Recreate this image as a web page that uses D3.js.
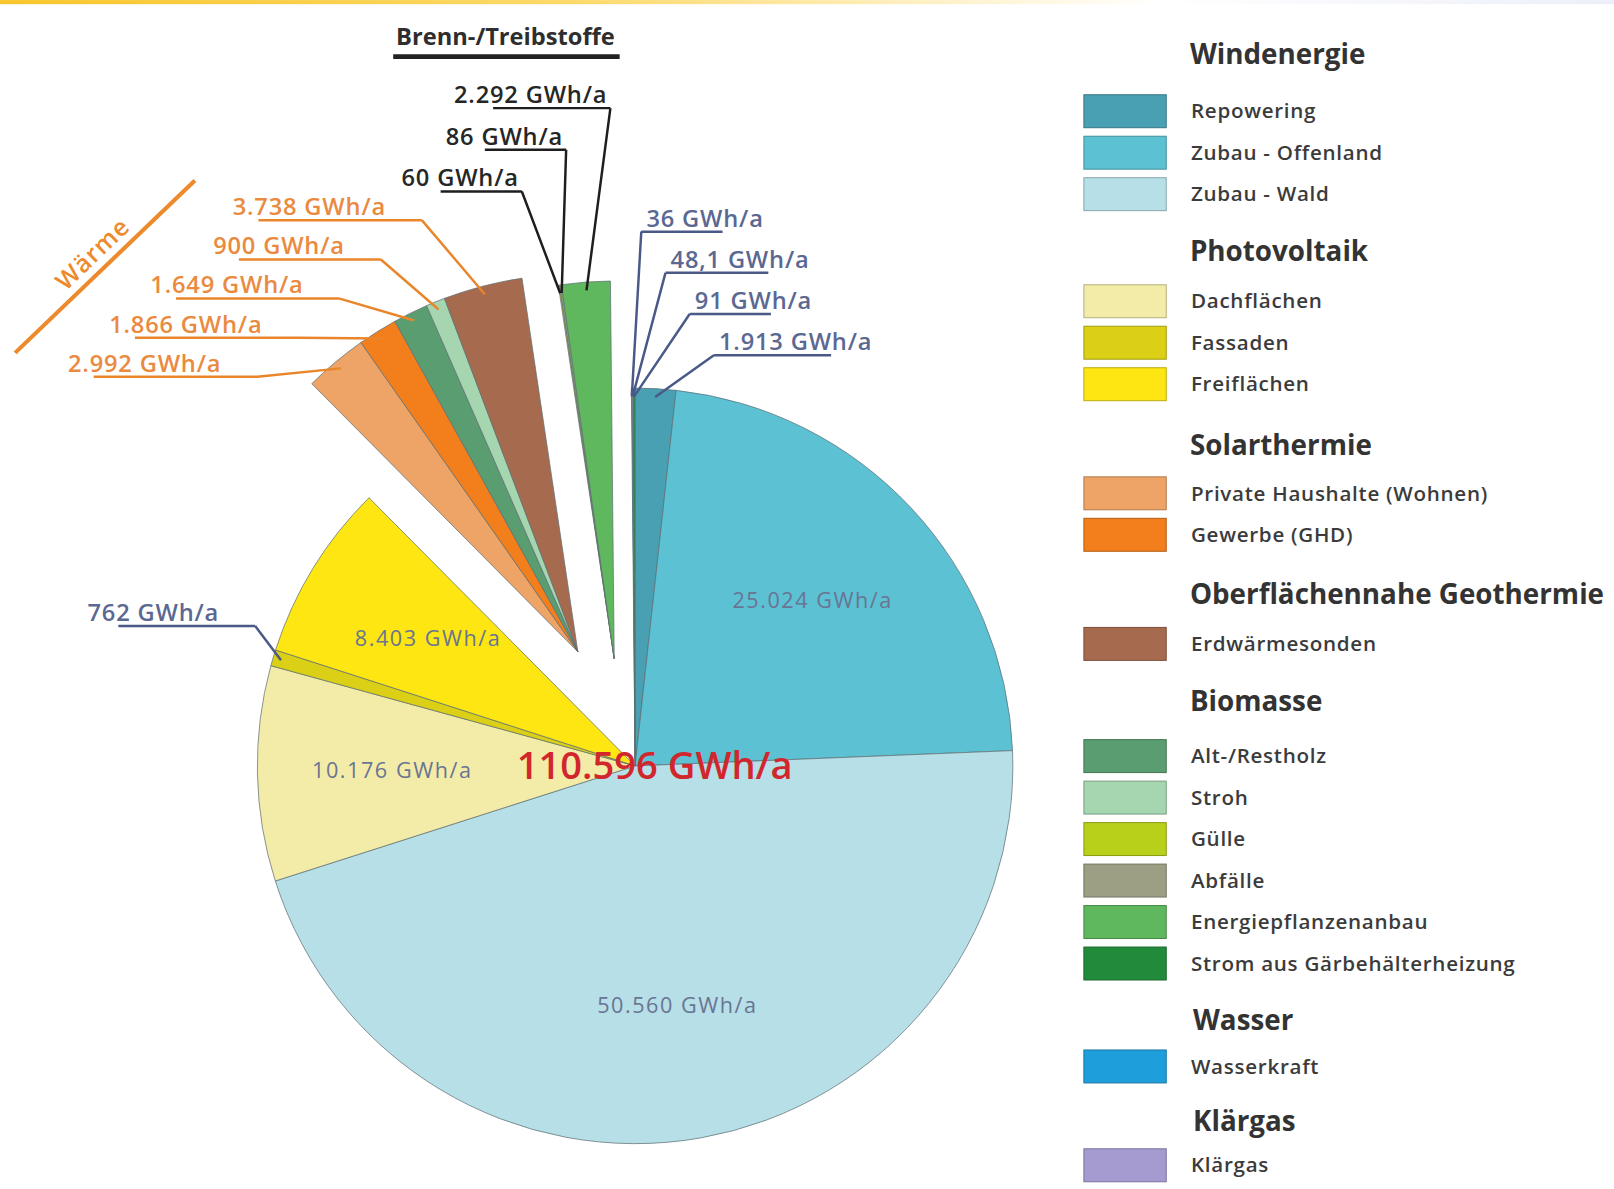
<!DOCTYPE html>
<html lang="de">
<head>
<meta charset="utf-8">
<title>Erneuerbare Energien - Potenziale</title>
<script src="https://cdnjs.cloudflare.com/ajax/libs/d3/7.8.5/d3.min.js"></script>
<style>
  body { margin: 0; background: #fff; }
  svg { display: block; font-family: "Open Sans", "DejaVu Sans", sans-serif; }
</style>
</head>
<body>
<div id="chart-area"></div>
<script>
/*
*   Erneuerbare Energien - Potenziale in GWh/a
*/

// slices, clockwise from 12 o'clock
var sliceNames = ["Repowering", "Zubau - Offenland", "Zubau - Wald",
    "Dachflächen", "Fassaden", "Freiflächen",
    "Private Haushalte (Wohnen)", "Gewerbe (GHD)", "Alt-/Restholz", "Stroh", "Erdwärmesonden",
    "Gülle", "Abfälle", "Energiepflanzenanbau",
    "Wasserkraft", "Klärgas", "Strom aus Gärbehälterheizung"];
var sliceValues = [1913, 25024, 50560, 10176, 762, 8403,
    2992, 1866, 1649, 900, 3738,
    60, 86, 2292,
    36, 48.1, 91];
var sliceUse = ["Strom", "Strom", "Strom", "Strom", "Strom", "Strom",
    "Wärme", "Wärme", "Wärme", "Wärme", "Wärme",
    "Brenn", "Brenn", "Brenn",
    "Strom", "Strom", "Strom"];
var unit = "GWh/a";

// legend
var legendHeaders = ["Windenergie", "Photovoltaik", "Solarthermie", "Oberflächennahe Geothermie",
    "Biomasse", "Wasser", "Klärgas"];
var legendItems = [
    ["Repowering", "Zubau - Offenland", "Zubau - Wald"],
    ["Dachflächen", "Fassaden", "Freiflächen"],
    ["Private Haushalte (Wohnen)", "Gewerbe (GHD)"],
    ["Erdwärmesonden"],
    ["Alt-/Restholz", "Stroh", "Gülle", "Abfälle", "Energiepflanzenanbau", "Strom aus Gärbehälterheizung"],
    ["Wasserkraft"],
    ["Klärgas"]];
var itemColors = ["#4aa0b3", "#5cc1d3", "#b6dfe7",
    "#f3eca9", "#dbd015", "#fde612",
    "#eea367", "#f27f1c",
    "#a66b4f",
    "#5a9d70", "#a6d6b0", "#b9d01a", "#9c9f84", "#5fb85d", "#228b3b",
    "#1e9fdb",
    "#a69bd1"];

var color = d3.scaleOrdinal()
    .domain(d3.merge(legendItems))
    .range(itemColors);

var de = d3.formatLocale({decimal: ",", thousands: ".", grouping: [3], currency: ["", " €"]});
var fmt = de.format(",.6~g");

var W = 1568, H = 1155;
var cx = 617, cy = 744, R = 367;
var explode = {"Strom": 0, "Wärme": 124, "Brenn": 106};
var explodeTilt = {"Strom": 0, "Wärme": 0, "Brenn": -6.5 * Math.PI / 180};

var svg = d3.select("#chart-area")
    .append("svg")
        .attr("width", 1614)
        .attr("height", 1189)
        .attr("viewBox", "0 0 " + W + " " + H);

// yellow strip on top
var grad = svg.append("defs").append("linearGradient").attr("id", "topbar");
[[0, "#f8c52a"], [0.35, "#fcd866"], [0.6, "#fff3cf"], [0.72, "#ffffff"], [1, "#eceff9"]].forEach(function(s){
    grad.append("stop").attr("offset", s[0]).attr("stop-color", s[1]);
});
svg.append("rect").attr("width", W).attr("height", 4).attr("fill", "url(#topbar)");

var data = sliceNames.map(function(n, i){
    return {name: n, value: sliceValues[i], use: sliceUse[i]};
});

var pie = d3.pie().sort(null).value(function(d){ return d.value; });
var arcs = pie(data);
var arc = d3.arc().innerRadius(0).outerRadius(R);
var labelArc = d3.arc().innerRadius(236).outerRadius(236);

// mid angle of every group, to pull the group out
var groupMid = {};
d3.group(arcs, function(d){ return d.data.use; }).forEach(function(list, key){
    groupMid[key] = (d3.min(list, function(d){ return d.startAngle; }) +
                     d3.max(list, function(d){ return d.endAngle; })) / 2;
});

function offset(d){
    var o = explode[d.data.use], a = groupMid[d.data.use] + explodeTilt[d.data.use];
    return [o * Math.sin(a), -o * Math.cos(a)];
}
function midAngle(d){ return (d.startAngle + d.endAngle) / 2; }
function anchorPt(d){
    var a = midAngle(d), o = offset(d), r = R - 8;
    return [cx + o[0] + r * Math.sin(a), cy + o[1] - r * Math.cos(a)];
}

var g = svg.append("g").attr("transform", "translate(" + cx + "," + cy + ")");

g.selectAll("path.slice")
    .data(arcs)
    .enter().append("path")
        .attr("class", "slice")
        .attr("transform", function(d){ return "translate(" + offset(d) + ")"; })
        .attr("d", arc)
        .attr("fill", function(d){ return color(d.data.name); })
        .attr("stroke", "#5e6e72")
        .attr("stroke-width", 0.7);

// big slices: value inside
g.selectAll("text.inner")
    .data(arcs.filter(function(d){ return d.data.value > 5000; }))
    .enter().append("text")
        .attr("class", "inner")
        .attr("transform", function(d){ return "translate(" + labelArc.centroid(d) + ")"; })
        .attr("dy", "0.35em")
        .attr("text-anchor", "middle")
        .attr("font-size", "21px")
        .attr("letter-spacing", "1.5px")
        .attr("fill", "#6a7493")
        .text(function(d){ return fmt(d.data.value) + " " + unit; });

// total
g.append("text")
    .attr("x", 19)
    .attr("dy", "0.35em")
    .attr("text-anchor", "middle")
    .attr("font-size", "37px")
    .attr("font-weight", 600)
    .attr("fill", "#d2262d")
    .text(fmt(d3.sum(sliceValues)) + " " + unit);

// small slices: labels with leader lines
var leaderLayout = {
    "Wärme":     {x0: 375, y0: 209, dx: -40,  dy: 38,   anchor: "end",   fill: "#ea8a3f", stroke: "#e9862c", u0: 25, u1: 35, elbow: "right"},
    "Brenn":     {x0: 590, y0: 100, dx: -43,  dy: 40.5, anchor: "end",   fill: "#262626", stroke: "#1e1e1e", u0: 38, u1: 3,  elbow: "right"},
    "StromTop":  {x0: 628, y0: 220, dx: 23.5, dy: 40,   anchor: "start", fill: "#5b6892", stroke: "#4a5987", u0: -5, u1: -40, elbow: "left"},
    "StromLeft": {x0: 85,  y0: 603, dx: 0,    dy: 0,    anchor: "start", fill: "#5b6892", stroke: "#4a5987", u0: 30, u1: 35, elbow: "right"}
};

function leaderKey(d){
    if (d.data.use !== "Strom") return d.data.use;
    var a = midAngle(d);
    return (a > Math.PI && a < 1.9 * Math.PI) ? "StromLeft" : "StromTop";
}
function signedAngle(d){
    var a = midAngle(d);
    return a > Math.PI ? a - 2 * Math.PI : a;
}

var small = arcs.filter(function(d){ return d.data.value <= 5000; });
var leaders = svg.append("g");

Object.keys(leaderLayout).forEach(function(key){
    var L = leaderLayout[key];
    var list = small.filter(function(d){ return leaderKey(d) === key; });
    if (key === "StromTop" || key === "StromLeft") {
        list.sort(function(a, b){ return signedAngle(a) - signedAngle(b); });
    } else {
        list.sort(function(a, b){ return midAngle(b) - midAngle(a); });
    }
    list.forEach(function(d, i){
        var x = L.x0 + L.dx * i, y = L.y0 + L.dy * i;
        var t = leaders.append("text")
            .attr("x", x)
            .attr("y", y)
            .attr("text-anchor", L.anchor)
            .attr("font-size", "23px")
            .attr("font-weight", 600)
            .attr("letter-spacing", "0.8px")
            .attr("fill", L.fill)
            .text(fmt(d.data.value) + " " + unit);
        var w = t.node().getComputedTextLength();
        var x1 = L.anchor === "end" ? x - w : x, x2 = x1 + w;
        var uy = y + 5, ua = x1 + L.u0, ub = x2 + L.u1;
        var ex = L.elbow === "right" ? ub : ua;
        var p = anchorPt(d);
        leaders.append("path")
            .attr("d", "M" + ua + "," + uy + "H" + ub + "M" + ex + "," + uy + "L" + p[0] + "," + p[1])
            .attr("fill", "none")
            .attr("stroke", L.stroke)
            .attr("stroke-width", 2.4);
    });
});

// group titles
var wt = svg.append("g").attr("transform", "translate(102,259) rotate(-43.8)");
wt.append("line")
    .attr("x1", -121).attr("x2", 121)
    .attr("stroke", "#ec8a2c")
    .attr("stroke-width", 4);
wt.append("text")
    .attr("y", -9)
    .attr("text-anchor", "middle")
    .attr("font-size", "24px")
    .attr("font-weight", 600)
    .attr("letter-spacing", "1px")
    .attr("fill", "#ec8a2c")
    .text("Wärme");

svg.append("text")
    .attr("x", 491)
    .attr("y", 44)
    .attr("text-anchor", "middle")
    .attr("font-size", "23px")
    .attr("font-weight", 700)
    .attr("fill", "#2e2e2e")
    .text("Brenn-/Treibstoffe");
svg.append("line")
    .attr("x1", 382).attr("x2", 602)
    .attr("y1", 55).attr("y2", 55)
    .attr("stroke", "#222")
    .attr("stroke-width", 4.5);

// legend: gap header -> first item, and last item -> next header
var headerGap = [55, 49, 47, 48, 53, 45, 43];
var groupGap = [55, 59, 58, 56, 55, 53];
var itemStep = 40.3;

var legend = svg.append("g");
var ly = 53;
legendHeaders.forEach(function(h, gi){
    legend.append("text")
        .attr("x", gi >= 5 ? 1159 : 1156)
        .attr("y", ly)
        .attr("dy", "0.35em")
        .attr("font-size", "27px")
        .attr("font-weight", 700)
        .attr("fill", "#333")
        .text(h);
    ly += headerGap[gi];
    legendItems[gi].forEach(function(name, j){
        if (j > 0) ly += itemStep;
        legend.append("rect")
            .attr("x", 1053)
            .attr("y", ly - 16)
            .attr("width", 80)
            .attr("height", 32)
            .attr("fill", color(name))
            .attr("stroke", d3.color(color(name)).darker(0.8))
            .attr("stroke-width", 1);
        legend.append("text")
            .attr("x", 1157)
            .attr("y", ly)
            .attr("dy", "0.35em")
            .attr("font-size", "20px")
            .attr("font-weight", 600)
            .attr("letter-spacing", "0.7px")
            .attr("fill", "#3b3b3b")
            .text(name);
    });
    if (gi < groupGap.length) ly += groupGap[gi];
});
</script>
</body>
</html>
